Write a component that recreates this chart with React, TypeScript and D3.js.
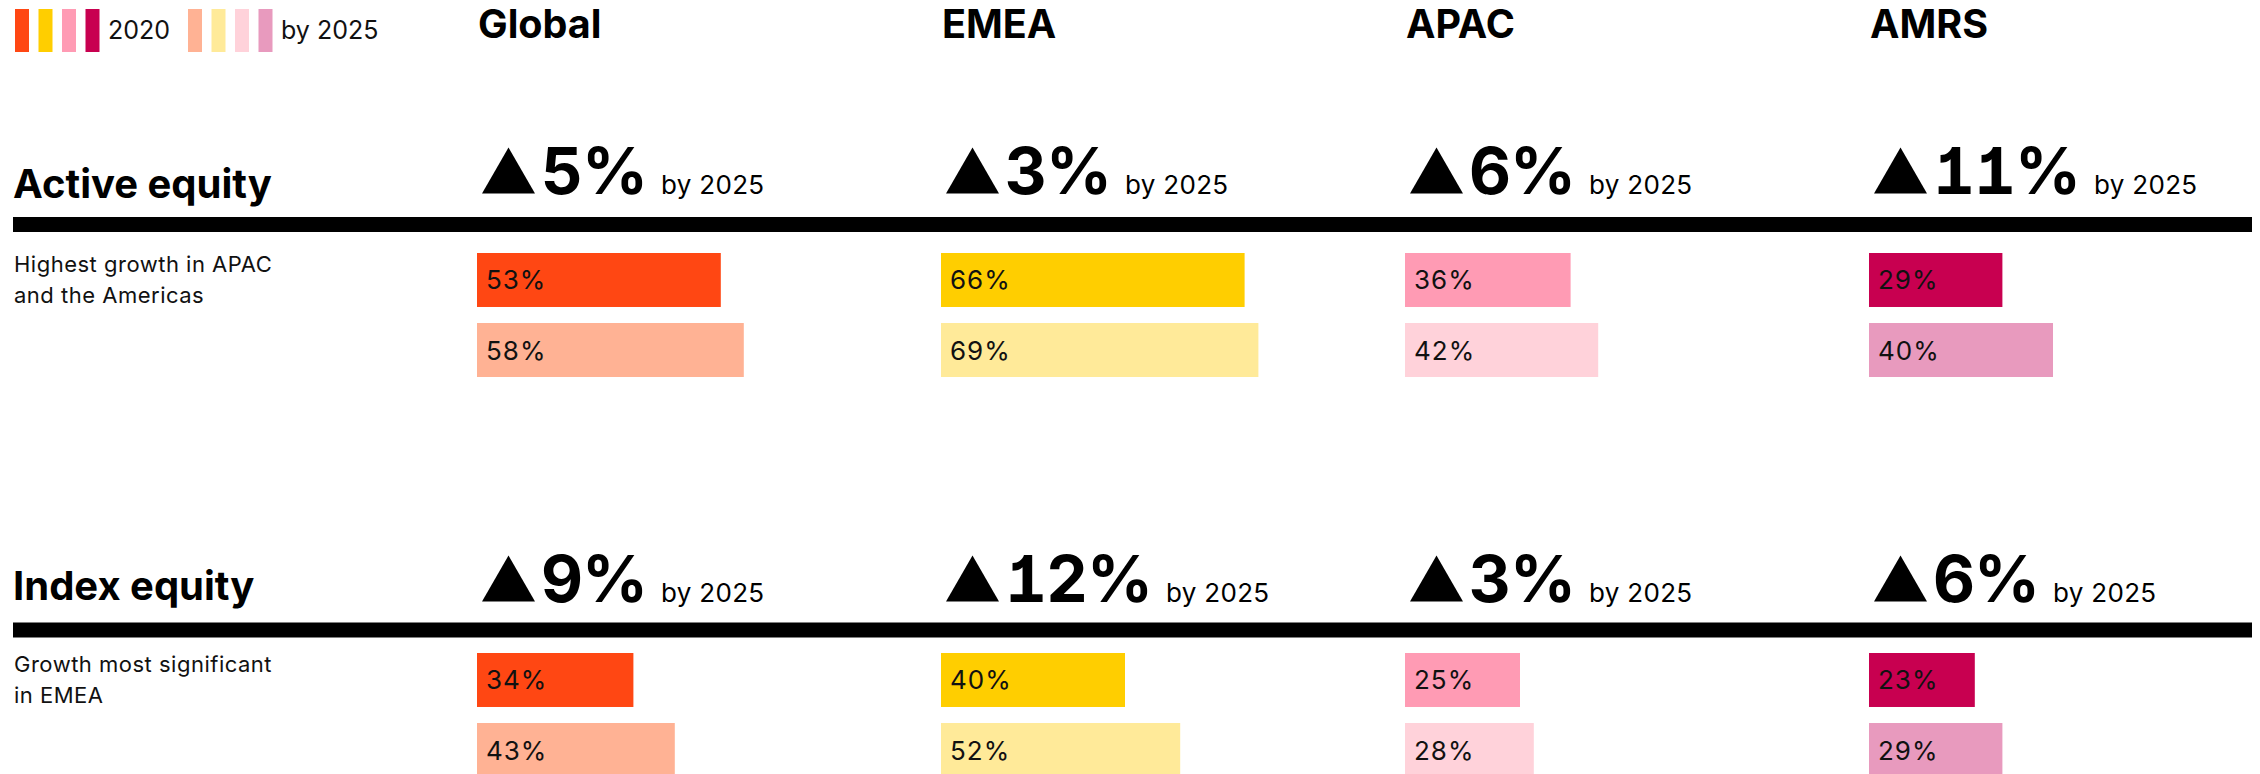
// @ts-nocheck

import React from 'react'
import * as d3 from 'd3'

const regions = ['Global', 'EMEA', 'APAC', 'AMRS']
const assetClasses = ['Active equity', 'Index equity']
const notes = [
  ['Highest growth in APAC', 'and the Americas'],
  ['Growth most significant', 'in EMEA'],
]
const years = ['2020', 'by 2025']

// growth in share (percentage points) by 2025
const activeGrowth = [5, 3, 6, 11]
const indexGrowth = [9, 12, 3, 6]

// share of assets, %
const active2020 = [53, 66, 36, 29]
const active2025 = [58, 69, 42, 40]
const index2020 = [34, 40, 25, 23]
const index2025 = [43, 52, 28, 29]

const colors2020 = ['#FF4713', '#FFCE00', '#FF9BB4', '#C80050']
const colors2025 = ['#FFB294', '#FFEA99', '#FFD2DA', '#E89ABE']

const FONT = "Inter, 'Noto Sans', sans-serif"

const App = () => {
  const svgRef = React.useRef(null)
  const width = 2260
  const height = 774

  React.useEffect(() => {
    const svgEl = d3.select(svgRef.current)
    svgEl.selectAll('*').remove()
    const svg = svgEl.append('g').attr('font-family', FONT)

    const colX = d3.scaleBand().domain(regions).range([477, 477 + 464 * 4])
    const xScale = d3.scaleLinear().domain([0, 100]).range([0, 460])
    const barY = d3
      .scaleBand()
      .domain(years)
      .range([253, 377])
      .paddingInner(0.229)

    // legend
    const legendGroups = [
      { x: 15, colors: colors2020, label: years[0] },
      { x: 188, colors: colors2025, label: years[1] },
    ]
    legendGroups.forEach((g) => {
      svg
        .selectAll(null)
        .data(g.colors)
        .enter()
        .append('rect')
        .attr('x', (d, i) => g.x + i * 23.5)
        .attr('y', 9)
        .attr('width', 14)
        .attr('height', 43)
        .attr('fill', (d) => d)
      svg
        .append('text')
        .attr('x', g.x + 93)
        .attr('y', 39)
        .attr('font-size', 25)
        .attr('fill', '#111')
        .text(g.label)
    })

    // column headers
    svg
      .selectAll('.col-head')
      .data(regions)
      .enter()
      .append('text')
      .attr('x', (d) => colX(d) + 1)
      .attr('y', 38)
      .attr('font-size', 39.5)
      .attr('font-weight', 700)
      .attr('fill', '#000')
      .text((d) => d)

    const rows = [
      { growth: activeGrowth, v2020: active2020, v2025: active2025, off: 0, titleOff: 0, ruleOff: 0, numOff: 0 },
      { growth: indexGrowth, v2020: index2020, v2025: index2025, off: 400, titleOff: 402, ruleOff: 405.5, numOff: 408 },
    ]

    rows.forEach((row, r) => {
      const g = svg.append('g')

      g.append('text')
        .attr('x', 13)
        .attr('y', 198 + row.titleOff)
        .attr('font-size', 40)
        .attr('font-weight', 700)
        .attr('fill', '#000')
        .text(assetClasses[r])

      g.append('rect')
        .attr('x', 13)
        .attr('y', 217 + row.ruleOff)
        .attr('width', 2252 - 13)
        .attr('height', 15)
        .attr('fill', '#000')

      g.selectAll('.note')
        .data(notes[r])
        .enter()
        .append('text')
        .attr('x', 14)
        .attr('y', (d, i) => 271.7 + row.off + i * 31.6)
        .attr('font-size', 22)
        .attr('letter-spacing', 0.5)
        .attr('fill', '#111')
        .text((d) => d)

      // growth triangles + numbers
      const base = 193.5 + row.numOff
      g.selectAll('.tri')
        .data(regions)
        .enter()
        .append('path')
        .attr('d', (d) => {
          const x = colX(d) + 5
          return `M${x},${base}L${x + 53},${base}L${x + 26.5},${base - 46}Z`
        })
        .attr('fill', '#000')

      const num = g
        .selectAll('.num')
        .data(row.growth)
        .enter()
        .append('text')
        .attr('x', (d, i) => colX(regions[i]) + 64)
        .attr('y', base + 0.5)
        .attr('fill', '#000')
      num
        .append('tspan')
        .attr('font-size', 65)
        .attr('font-weight', 700)
        .attr('letter-spacing', -1)
        .style('font-feature-settings', '"tnum", "cv01"')
        .text((d) => `${d}%`)
      num
        .append('tspan')
        .attr('dx', 14)
        .attr('font-size', 26)
        .attr('letter-spacing', 0.3)
        .text('by 2025')

      // bars
      const series = [
        { key: years[0], values: row.v2020, colors: colors2020 },
        { key: years[1], values: row.v2025, colors: colors2025 },
      ]
      series.forEach((s) => {
        const y0 = barY(s.key) + row.off
        const bh = barY.bandwidth()
        g.selectAll(null)
          .data(s.values)
          .enter()
          .append('rect')
          .attr('x', (d, i) => colX(regions[i]))
          .attr('y', y0)
          .attr('width', (d) => xScale(d))
          .attr('height', bh)
          .attr('fill', (d, i) => s.colors[i])
        g.selectAll(null)
          .data(s.values)
          .enter()
          .append('text')
          .attr('x', (d, i) => colX(regions[i]) + 9)
          .attr('y', y0 + bh / 2 + 9.5)
          .attr('font-size', 26)
          .attr('letter-spacing', 1)
          .attr('fill', '#111')
          .text((d) => `${d}%`)
      })
    })
  }, [])

  return (
    <svg
      ref={svgRef}
      width={width}
      height={height}
      style={{ position: 'absolute', left: 0, top: 0, background: '#fff' }}
    />
  )
}

export default App
